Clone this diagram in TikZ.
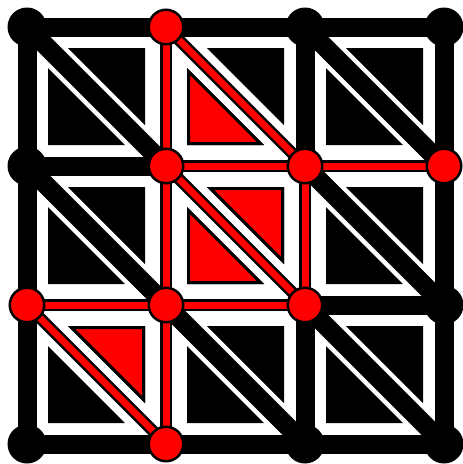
\documentclass[tikz,border=0pt]{standalone}
\usepackage{tikz}

\begin{document}
\begin{tikzpicture}[
  x=1pt, y=-1pt,
  edge/.style={draw=black, line width=19pt},
  redge/.style={draw=black, line width=12pt},
  rcore/.style={draw=red, line width=7pt},
  tri/.style={fill=black},
  redtri/.style={fill=red, draw=black, line width=3pt},
  vtx/.style={circle, fill=black, inner sep=0pt, minimum size=39pt},
  redvtx/.style={circle, fill=red, draw=black, line width=2.5pt, inner sep=0pt, minimum size=34.5pt}
]
\useasboundingbox (0,0) rectangle (463,464);

% grid points, 139 apart
\foreach \i in {0,...,3}
  \foreach \j in {0,...,3}
    \coordinate (p\i\j) at ({27+139*\i},{27+139*\j});

% inset triangles of each cell
\foreach \i in {0,1,2}
  \foreach \j in {0,1,2} {
    \begin{scope}[shift={(p\i\j)}]
      \fill[tri] (41,21) -- (118,21) -- (118,98) -- cycle;
      \fill[tri] (21,41) -- (21,118) -- (98,118) -- cycle;
    \end{scope}
  }
\begin{scope}[shift={(p10)}]
  \filldraw[redtri] (22.5,44.6) -- (22.5,116.5) -- (94.4,116.5) -- cycle;
\end{scope}
\begin{scope}[shift={(p11)}]
  \filldraw[redtri] (44.6,22.5) -- (116.5,22.5) -- (116.5,94.4) -- cycle;
  \filldraw[redtri] (22.5,44.6) -- (22.5,116.5) -- (94.4,116.5) -- cycle;
\end{scope}
\begin{scope}[shift={(p02)}]
  \filldraw[redtri] (44.6,22.5) -- (116.5,22.5) -- (116.5,94.4) -- cycle;
\end{scope}

% black edges
\foreach \a/\b in {p00/p10, p10/p20, p20/p30, p01/p11, p22/p32,
                   p03/p13, p13/p23, p23/p33,
                   p00/p01, p01/p02, p02/p03, p20/p21, p22/p23,
                   p30/p31, p31/p32, p32/p33,
                   p00/p11, p20/p31, p01/p12, p21/p32, p12/p23, p22/p33}
  \draw[edge] (\a) -- (\b);

% red edges
\foreach \a/\b in {p11/p21, p21/p31, p02/p12, p12/p22,
                   p10/p11, p11/p12, p12/p13, p21/p22,
                   p10/p21, p11/p22, p02/p13}
  \draw[redge] (\a) -- (\b);
\foreach \a/\b in {p11/p21, p21/p31, p02/p12, p12/p22,
                   p10/p11, p11/p12, p12/p13, p21/p22,
                   p10/p21, p11/p22, p02/p13}
  \draw[rcore] (\a) -- (\b);

% vertices
\foreach \p in {p00, p20, p30, p01, p32, p03, p23, p33}
  \node[vtx] (n\p) at (\p) {};
\foreach \p in {p10, p11, p21, p31, p02, p12, p22, p13}
  \node[redvtx] (n\p) at (\p) {};

\end{tikzpicture}
\end{document}
